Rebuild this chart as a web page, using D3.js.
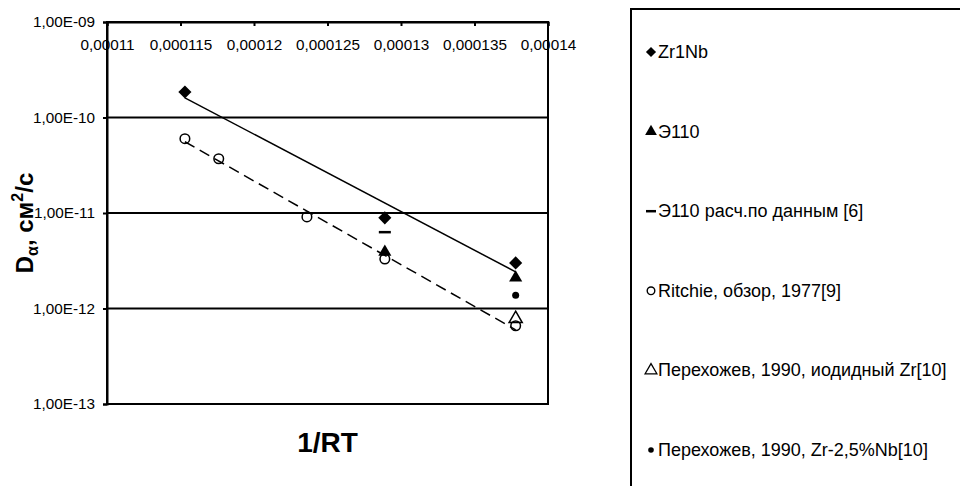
<!DOCTYPE html>
<html>
<head>
<meta charset="utf-8">
<script src="https://cdn.jsdelivr.net/npm/d3@7"></script>
<style>
  body { margin: 0; background: #fff; }
  svg { font-family: "Liberation Sans", Arial, sans-serif; }
</style>
</head>
<body>
<svg id="chart" width="960" height="486"></svg>
<script>
// data
const xTicks = [0.00011, 0.000115, 0.00012, 0.000125, 0.00013, 0.000135, 0.00014]
const xTickLabels = ["0,00011", "0,000115", "0,00012", "0,000125", "0,00013", "0,000135", "0,00014"]
const yTicks = [1e-9, 1e-10, 1e-11, 1e-12, 1e-13]
const yTickLabels = ["1,00E-09", "1,00E-10", "1,00E-11", "1,00E-12", "1,00E-13"]

const zr1nb = [[0.0001153, 1.85e-10], [0.0001289, 8.9e-12], [0.0001378, 3.0e-12]]
const e110 = [[0.0001289, 3.9e-12], [0.0001378, 2.1e-12]]
const e110calc = [[0.0001289, 6.3e-12]]
const ritchie = [[0.0001153, 6.0e-11], [0.0001176, 3.7e-11], [0.0001236, 9.1e-12], [0.0001289, 3.3e-12], [0.0001378, 6.6e-13]]
const perekhIod = [[0.0001378, 7.8e-13]]
const perekhNb = [[0.0001378, 1.38e-12]]

const legendLabels = ["Zr1Nb", "Э110", "Э110 расч.по данным [6]", "Ritchie, обзор, 1977[9]",
  "Перехожев, 1990, иодидный Zr[10]", "Перехожев, 1990, Zr-2,5%Nb[10]"]

const svg = d3.select("#chart")
const width = 960, height = 486
const margin = {top: 22, right: 412, bottom: 82, left: 107}

// scales
const x = d3.scaleLinear()
  .domain([0.00011, 0.00014])
  .range([margin.left, width - margin.right])

const y = d3.scaleLog()
  .domain([1e-13, 1e-9])
  .range([height - margin.bottom, margin.top])

// gridlines
svg.append("g")
  .selectAll("line")
  .data(yTicks)
  .enter()
  .append("line")
    .attr("x1", margin.left)
    .attr("x2", width - margin.right)
    .attr("y1", d => y(d))
    .attr("y2", d => y(d))
    .attr("stroke", "#000")
    .attr("stroke-width", 2)

// plot border (right + bottom)
svg.append("rect")
  .attr("x", margin.left)
  .attr("y", margin.top)
  .attr("width", width - margin.right - margin.left)
  .attr("height", height - margin.bottom - margin.top)
  .attr("fill", "none")
  .attr("stroke", "#000")
  .attr("stroke-width", 2)

// y axis
const yAxis = svg.append("g")
  .attr("transform", "translate(" + margin.left + ",0)")
  .call(d3.axisLeft(y).tickValues(yTicks).tickSize(4).tickPadding(8)
    .tickFormat((d, i) => yTickLabels[i]))
yAxis.select(".domain").attr("stroke-width", 2)
yAxis.selectAll(".tick line").attr("stroke-width", 2)
yAxis.selectAll("text")
  .style("font-size", "15.3px")
  .style("font-family", "'Liberation Sans', Arial, sans-serif")
  .attr("fill", "#000")

// x axis along the top, ticks inside
const xAxis = svg.append("g")
  .attr("transform", "translate(0," + margin.top + ")")
  .call(d3.axisBottom(x).tickValues(xTicks).tickSize(4).tickPadding(13)
    .tickFormat((d, i) => xTickLabels[i]))
xAxis.select(".domain").attr("stroke-width", 2)
xAxis.selectAll(".tick line").attr("stroke-width", 2)
xAxis.selectAll("text")
  .style("font-size", "15.3px")
  .style("font-family", "'Liberation Sans', Arial, sans-serif")
  .attr("fill", "#000")

// exponential trend (least squares on log10)
function trend(pts) {
  const xs = pts.map(d => d[0]), ls = pts.map(d => Math.log10(d[1]))
  const mx = d3.mean(xs), ml = d3.mean(ls)
  const sxy = d3.sum(xs, (v, i) => (v - mx) * (ls[i] - ml))
  const sxx = d3.sum(xs, v => (v - mx) * (v - mx))
  const b = sxy / sxx
  const x0 = d3.min(xs), x1 = d3.max(xs)
  return [x0, x1].map(v => [v, Math.pow(10, ml + b * (v - mx))])
}

const line = d3.line().x(d => x(d[0])).y(d => y(d[1]))

svg.append("path")
  .attr("d", line(trend(zr1nb)))
  .attr("fill", "none")
  .attr("stroke", "#000")
  .attr("stroke-width", 1.5)

svg.append("path")
  .attr("d", line(trend(ritchie)))
  .attr("fill", "none")
  .attr("stroke", "#000")
  .attr("stroke-width", 1.5)
  .attr("stroke-dasharray", "11,6")

// markers
const sym = {
  diamond: d3.symbol().type(d3.symbolDiamond2).size(110),
  triangle: d3.symbol().type(d3.symbolTriangle).size(75),
}

function drawSeries(data, kind) {
  const g = svg.append("g")
  const sel = g.selectAll("." + kind).data(data).enter()
  if (kind == "diamond") {
    sel.append("path").attr("d", sym.diamond)
      .attr("transform", d => "translate(" + x(d[0]) + "," + y(d[1]) + ")")
      .attr("fill", "#000")
  } else if (kind == "triangle") {
    sel.append("path").attr("d", sym.triangle)
      .attr("transform", d => "translate(" + x(d[0]) + "," + y(d[1]) + ")")
      .attr("fill", "#000")
  } else if (kind == "opentri") {
    sel.append("path").attr("d", sym.triangle)
      .attr("transform", d => "translate(" + x(d[0]) + "," + y(d[1]) + ")")
      .attr("fill", "none").attr("stroke", "#000").attr("stroke-width", 1.5)
  } else if (kind == "circle") {
    sel.append("circle").attr("cx", d => x(d[0])).attr("cy", d => y(d[1]))
      .attr("r", 4.8).attr("fill", "none").attr("stroke", "#000").attr("stroke-width", 1.5)
  } else if (kind == "dot") {
    sel.append("circle").attr("cx", d => x(d[0])).attr("cy", d => y(d[1]))
      .attr("r", 3.5).attr("fill", "#000")
  } else if (kind == "dash") {
    sel.append("line")
      .attr("x1", d => x(d[0]) - 6).attr("x2", d => x(d[0]) + 6)
      .attr("y1", d => y(d[1])).attr("y2", d => y(d[1]))
      .attr("stroke", "#000").attr("stroke-width", 2.5)
  }
}

drawSeries(ritchie, "circle")
drawSeries(perekhIod, "opentri")
drawSeries(e110, "triangle")
drawSeries(zr1nb, "diamond")
drawSeries(e110calc, "dash")
drawSeries(perekhNb, "dot")

// axis titles
svg.append("text")
  .attr("x", (margin.left + width - margin.right) / 2)
  .attr("y", 452)
  .attr("text-anchor", "middle")
  .attr("font-size", 28)
  .attr("font-weight", "bold")
  .text("1/RT")

const yt = svg.append("text")
  .attr("transform", "translate(33,223)rotate(-90)")
  .attr("text-anchor", "middle")
  .attr("font-size", 24)
  .attr("font-weight", "bold")
yt.append("tspan").text("D")
yt.append("tspan").attr("font-size", 16).attr("dy", 5).text("α")
yt.append("tspan").attr("dy", -5).text(", см")
yt.append("tspan").attr("font-size", 16).attr("dy", -10).text("2")
yt.append("tspan").attr("dy", 10).text("/с")

// legend
const legend = svg.append("g")
legend.append("rect")
  .attr("x", 631).attr("y", 9)
  .attr("width", 340).attr("height", 490)
  .attr("fill", "#fff").attr("stroke", "#000").attr("stroke-width", 2)

const legKinds = ["diamond", "triangle", "dash", "circle", "opentri", "dot"]
const legY = d3.scaleLinear().domain([0, 5]).range([52, 450])

legendLabels.forEach((lab, i) => {
  const cx = 651, cy = legY(i)
  const k = legKinds[i]
  if (k == "diamond") {
    legend.append("path").attr("d", d3.symbol().type(d3.symbolDiamond2).size(65))
      .attr("transform", "translate(" + cx + "," + cy + ")").attr("fill", "#000")
  } else if (k == "triangle") {
    legend.append("path").attr("d", d3.symbol().type(d3.symbolTriangle).size(60))
      .attr("transform", "translate(" + cx + "," + cy + ")").attr("fill", "#000")
  } else if (k == "opentri") {
    legend.append("path").attr("d", d3.symbol().type(d3.symbolTriangle).size(60))
      .attr("transform", "translate(" + cx + "," + cy + ")")
      .attr("fill", "none").attr("stroke", "#000").attr("stroke-width", 1.3)
  } else if (k == "circle") {
    legend.append("circle").attr("cx", cx).attr("cy", cy).attr("r", 3.8)
      .attr("fill", "none").attr("stroke", "#000").attr("stroke-width", 1.4)
  } else if (k == "dot") {
    legend.append("circle").attr("cx", cx).attr("cy", cy).attr("r", 2.8).attr("fill", "#000")
  } else if (k == "dash") {
    legend.append("line").attr("x1", cx - 5).attr("x2", cx + 5)
      .attr("y1", cy).attr("y2", cy).attr("stroke", "#000").attr("stroke-width", 2.5)
  }
  legend.append("text")
    .attr("x", 658).attr("y", cy + 6)
    .attr("font-size", 18)
    .text(lab)
})
</script>
</body>
</html>
